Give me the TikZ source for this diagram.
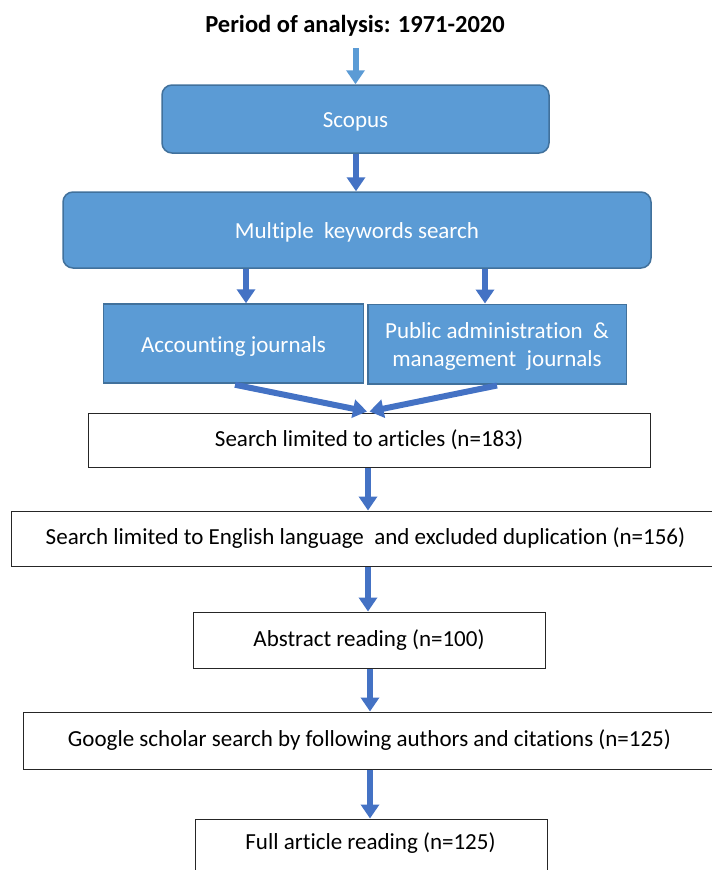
\documentclass[tikz,border=0pt]{standalone}
\usepackage{fontspec}
\setmainfont[Ligatures=NoCommon]{Carlito}
\usetikzlibrary{arrows.meta}
\definecolor{lblue}{HTML}{5B9BD5}
\definecolor{bord}{HTML}{41719C}
\definecolor{dblue}{HTML}{4472C4}
\newcommand\lowstrut{\rule{0pt}{21pt}}
\begin{document}
\begin{tikzpicture}[x=1pt,y=-1pt,
  font=\fontsize{23}{28}\selectfont,
  bluebox/.style={draw=bord, line width=1.5pt, fill=lblue, text=white, inner sep=0pt, align=center},
  roundbox/.style={bluebox, rounded corners=10pt},
  whitebox/.style={draw=black!85, line width=1pt, fill=white, inner sep=0pt, align=center},
  arr/.style={draw=dblue, line width=6pt, -{Triangle[width=18pt 0, length=14pt 0]}},
]
\useasboundingbox (0,0) rectangle (712,870);
\node[font=\fontsize{24.5}{28}\selectfont\bfseries] (title) at (355,26) {Period of analysis: 1971-2020};
\node[roundbox, minimum width=387pt, minimum height=68pt] (scopus) at (355.5,119) {\lowstrut Scopus};
\node[roundbox, minimum width=588pt, minimum height=76pt] (mks) at (357,230) {\lowstrut Multiple\ \ keywords search};
\node[bluebox, minimum width=260pt, minimum height=79pt] (acc) at (233.5,343.5) {\lowstrut Accounting journals};
\node[bluebox, minimum width=258.5pt, minimum height=79.5pt] (pub) at (497,344) {\lowstrut Public administration\ \ \&\\management\ \ journals};
\node[whitebox, minimum width=562pt, minimum height=54pt] (s1) at (369,440) {Search limited to articles (n=183)};
\node[whitebox, minimum width=709pt, minimum height=55pt] (s2) at (365.5,538.5) {Search limited to English language\ \ and excluded duplication (n=156)};
\node[whitebox, minimum width=352pt, minimum height=56pt] (abs) at (369,640) {Abstract reading (n=100)};
\node[whitebox, minimum width=693pt, minimum height=57pt] (gs) at (369.5,740.5) {Google scholar search by following authors and citations (n=125)};
\node[whitebox, minimum width=352pt, minimum height=56pt] (full) at (371,847) {};
\node (fulltxt) at (370.5,843) {Full article reading (n=125)};

\coordinate (a0) at (355.5,48);
\draw[arr, draw=lblue] (a0) -- (a0 |- scopus.north);
\draw[arr] ([xshift=0.5pt]scopus.south) -- ([xshift=0.5pt]scopus.south |- mks.north);
\draw[arr] (mks.south -| 246,0) -- (acc.north -| 246,0);
\draw[arr] (mks.south -| 485,0) -- (pub.north -| 485,0);
\draw[arr] ([xshift=1.5pt,yshift=-1pt]acc.south) -- ([xshift=-2pt,yshift=1pt]s1.north);
\draw[arr] ([yshift=-1pt]pub.south) -- ([xshift=0.5pt,yshift=1pt]s1.north);
\draw[arr] (s1.south -| 368,0) -- (s2.north -| 368,0);
\draw[arr] (s2.south -| 368,0) -- (abs.north -| 368,0);
\draw[arr] (abs.south -| 370,0) -- (gs.north -| 370,0);
\draw[arr] (gs.south -| 370,0) -- (full.north -| 370,0);
\end{tikzpicture}
\end{document}
